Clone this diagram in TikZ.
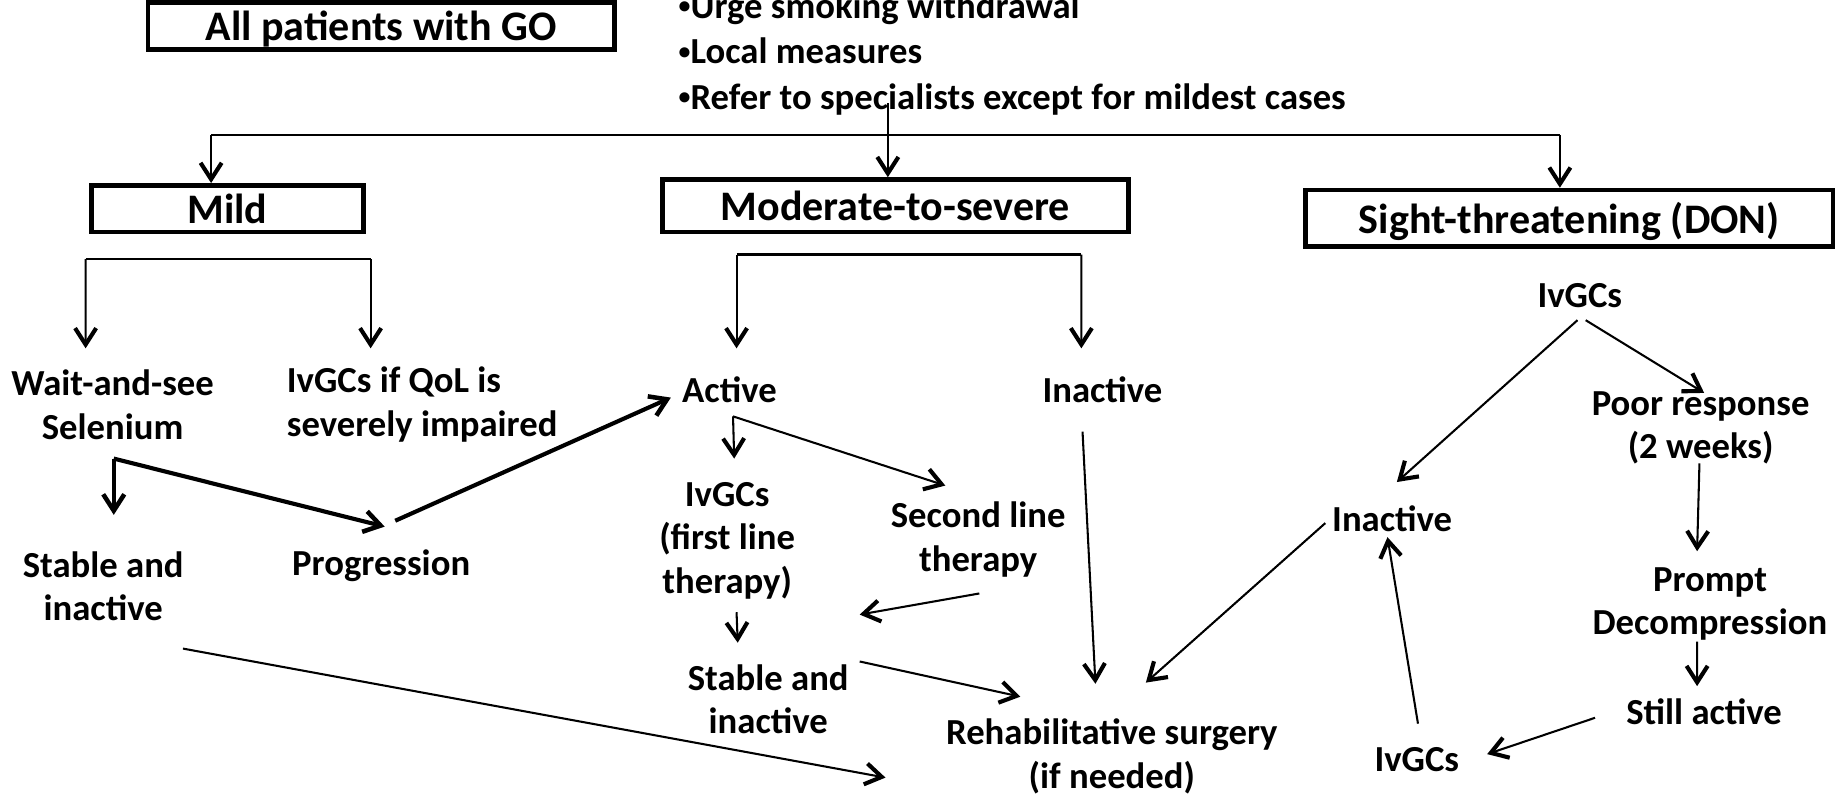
\documentclass[tikz,border=0pt]{standalone}
\usepackage{fontspec}
\setmainfont{Carlito}
\usetikzlibrary{arrows.meta}
\newcommand\dotb{\raisebox{0.25ex}{\scalebox{0.65}{•}}}

\begin{document}
\begin{tikzpicture}[
  txt/.style={font=\bfseries\fontsize{8.9}{10.5}\selectfont, align=center, inner sep=0pt},
  hdr/.style={draw, line width=1.1pt, font=\bfseries\fontsize{10.2}{12}\selectfont, inner sep=0pt, text depth=0pt},
  ln/.style={line width=0.5pt},
  arr/.style={line width=0.5pt, -{Straight Barb[length=1.4mm,width=1.8mm,line width=1pt]}},
  tarr/.style={line width=1pt, -{Straight Barb[length=1.4mm,width=1.8mm,line width=1.1pt]}}
]

\useasboundingbox (0,0) rectangle (15.68,-6.78);

% boxes and advice
\node[hdr, minimum width=3.98cm, minimum height=0.40cm] (all) at (3.25,-0.22) {All patients with GO};
\node[txt, align=left, anchor=north west] (adv) at (5.78,0.07) {\dotb Urge smoking withdrawal\\[0.5pt]\dotb Local measures\\[0.5pt]\dotb Refer to specialists except for mildest cases};
\node[hdr, minimum width=2.32cm, minimum height=0.40cm] (mild) at (1.94,-1.78) {Mild};
\node[hdr, minimum width=3.97cm, minimum height=0.45cm] (mod) at (7.635,-1.755) {Moderate-to-severe};
\node[hdr, minimum width=4.50cm, minimum height=0.48cm] (sight) at (13.38,-1.86) {Sight-threatening (DON)};

% mild
\node[txt] (wait) at (0.96,-3.45) {Wait-and-see\\Selenium};
\node[txt, align=left] (qol) at (3.60,-3.45) {IvGCs if QoL is\\severely impaired};
\node[txt] (stab1) at (0.88,-5.00) {Stable and\\inactive};
\node[txt] (prog) at (3.25,-4.82) {Progression};

% moderate-to-severe
\node[txt] (act) at (6.22,-3.32) {Active};
\node[txt] (inact) at (9.40,-3.32) {Inactive};
\node[txt] (ivg1) at (6.20,-4.61) {IvGCs\\(first line\\therapy)};
\node[txt] (sec) at (8.34,-4.60) {Second line\\therapy};
\node[txt] (stab2) at (6.55,-5.96) {Stable and\\inactive};
\node[txt] (rehab) at (9.48,-6.45) {Rehabilitative surgery\\(if needed)};

% sight-threatening
\node[txt] (ivtop) at (13.47,-2.52) {IvGCs};
\node[txt] (poor) at (14.50,-3.65) {Poor response\\(2 weeks)};
\node[txt] (prompt) at (14.58,-5.15) {Prompt\\Decompression};
\node[txt] (still) at (14.53,-6.07) {Still active};
\node[txt] (ivbot) at (12.08,-6.48) {IvGCs};
\node[txt] (inact2) at (11.87,-4.42) {Inactive};

% top split
\coordinate (hl) at (1.80,-1.15);
\coordinate (hr) at (13.30,-1.15);
\coordinate (split) at (7.57,-0.88);
\draw[ln] (hl) -- (hr);
\draw[arr] (hl) -- (hl |- mild.north);
\draw[arr] (hr) -- (hr |- sight.north);
\draw[arr] (split) -- (split |- mod.north);

% mild branch
\coordinate (ml) at (0.73,-2.21);
\coordinate (mr) at (3.16,-2.21);
\draw[ln] (ml) -- (mr);
\draw[arr] (ml) -- ([shift={(-0.23,0.48)}]wait.center);
\draw[arr] (mr) -- ([shift={(-0.44,0.48)}]qol.center);
\coordinate (sk) at ([shift={(0.01,-0.46)}]wait.center);
\draw[tarr] (sk) -- ([shift={(0.09,0.61)}]stab1.center);
\draw[tarr] (sk) -- ([shift={(0.03,0.33)}]prog.center);
\draw[tarr] ([shift={(0.12,0.38)}]prog.center) -- ([shift={(-0.50,-0.07)}]act.center);
\draw[arr] ([shift={(0.68,-0.53)}]stab1.center) -- ([shift={(-1.93,-0.18)}]rehab.center);

% moderate branch
\coordinate (nl) at (6.28,-2.17);
\coordinate (nr) at (9.22,-2.17);
\draw[ln] (nl) -- (nr);
\draw[arr] (nl) -- ([shift={(0.06,0.35)}]act.center);
\draw[arr] (nr) -- ([shift={(-0.18,0.35)}]inact.center);
\coordinate (ak) at ([shift={(0.03,-0.23)}]act.center);
\draw[arr] (ak) -- ([shift={(0.06,0.70)}]ivg1.center);
\draw[arr] (ak) -- ([shift={(-0.28,0.46)}]sec.center);
\draw[arr] ([shift={(0.01,-0.46)}]sec.center) -- ([shift={(1.13,-0.63)}]ivg1.center);
\draw[arr] ([shift={(0.08,-0.61)}]ivg1.center) -- ([shift={(-0.26,0.48)}]stab2.center);
\draw[arr] ([shift={(0.78,0.32)}]stab2.center) -- ([shift={(-0.78,0.51)}]rehab.center);
\draw[arr] ([shift={(-0.17,-0.36)}]inact.center) -- ([shift={(-0.14,0.62)}]rehab.center);

% sight-threatening branch
\draw[arr] ([shift={(-0.02,-0.21)}]ivtop.center) -- ([shift={(0.04,0.31)}]inact2.center);
\draw[arr] ([shift={(0.05,-0.21)}]ivtop.center) -- ([shift={(0.03,0.30)}]poor.center);
\draw[arr] ([shift={(-0.01,-0.30)}]poor.center) -- ([shift={(-0.11,0.45)}]prompt.center);
\draw[arr] ([shift={(-0.11,-0.32)}]prompt.center) -- ([shift={(-0.06,0.22)}]still.center);
\draw[arr] ([shift={(-0.93,-0.05)}]still.center) -- ([shift={(0.60,0.05)}]ivbot.center);
\draw[arr] ([shift={(0.01,0.31)}]ivbot.center) -- ([shift={(-0.04,-0.16)}]inact2.center);
\draw[arr] ([shift={(-0.57,-0.04)}]inact2.center) -- ([shift={(0.29,0.63)}]rehab.center);

\end{tikzpicture}
\end{document}
